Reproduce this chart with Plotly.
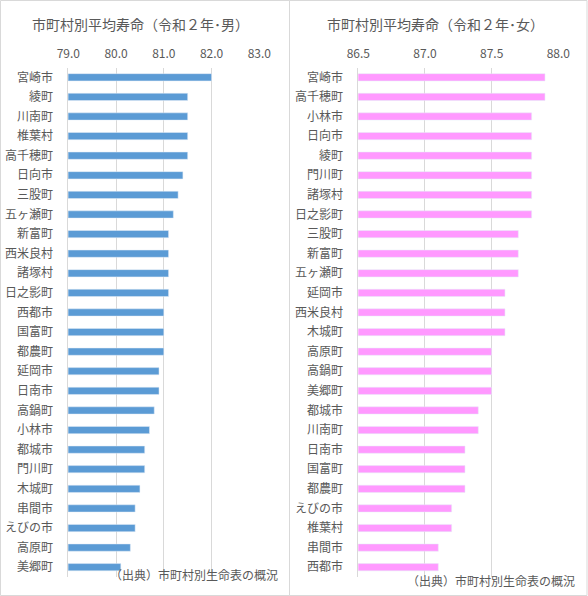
import plotly.graph_objects as go

W, H = 588, 596

male_towns = ["宮崎市","綾町","川南町","椎葉村","高千穂町","日向市","三股町","五ヶ瀬町","新富町","西米良村",
              "諸塚村","日之影町","西都市","国富町","都農町","延岡市","日南市","高鍋町","小林市","都城市",
              "門川町","木城町","串間市","えびの市","高原町","美郷町"]
male_values = [82.0,81.5,81.5,81.5,81.5,81.4,81.3,81.2,81.1,81.1,
               81.1,81.1,81.0,81.0,81.0,80.9,80.9,80.8,80.7,80.6,
               80.6,80.5,80.4,80.4,80.3,80.1]

female_towns = ["宮崎市","高千穂町","小林市","日向市","綾町","門川町","諸塚村","日之影町","三股町","新富町",
                "五ヶ瀬町","延岡市","西米良村","木城町","高原町","高鍋町","美郷町","都城市","川南町","日南市",
                "国富町","都農町","えびの市","椎葉村","串間市","西都市"]
female_values = [87.9,87.9,87.8,87.8,87.8,87.8,87.8,87.8,87.7,87.7,
                 87.7,87.6,87.6,87.6,87.5,87.5,87.5,87.4,87.4,87.3,
                 87.3,87.3,87.2,87.2,87.1,87.1]

male_ticks = [79.0, 80.0, 81.0, 82.0, 83.0]
female_ticks = [86.5, 87.0, 87.5, 88.0]

title_m = "市町村別平均寿命（令和２年･男）"
title_f = "市町村別平均寿命（令和２年･女）"
source = "（出典）市町村別生命表の概況"

FONT = "Noto Sans CJK JP"
GRAY = "#595959"
GRID = "#D9D9D9"

def px(x):
    return x / W

def py(y):
    return 1 - y / H

fig = go.Figure()
fig.add_trace(go.Bar(x=male_values, y=male_towns, orientation="h", marker_color="#5B9BD5",
                     xaxis="x", yaxis="y", showlegend=False))
fig.add_trace(go.Bar(x=female_values, y=female_towns, orientation="h", marker_color="#FF99FF",
                     xaxis="x2", yaxis="y2", showlegend=False))

ydom = [py(577), py(67.5)]
common_x = dict(side="top", showgrid=True, gridcolor=GRID, gridwidth=1, zeroline=False,
                tickfont=dict(family=FONT, size=12, color=GRAY), tickformat=".1f",
                showline=False, ticks="", ticklabelstandoff=6, fixedrange=True, automargin=False)
common_y = dict(autorange="reversed", type="category", showgrid=False, zeroline=False,
                showline=True, linecolor=GRID, linewidth=1, ticks="", automargin=False,
                tickfont=dict(family=FONT, size=12, color=GRAY), ticklabelstandoff=12)

fig.update_layout(
    width=W, height=H,
    margin=dict(l=0, r=0, t=0, b=0),
    paper_bgcolor="white", plot_bgcolor="white",
    bargap=0.63,
    xaxis=dict(domain=[px(68.3), px(259.3)], range=[79, 83], tickvals=male_ticks, anchor="y", **common_x),
    yaxis=dict(domain=ydom, anchor="x", **common_y),
    xaxis2=dict(domain=[px(358.3), px(558.3)], range=[86.5, 88.0], tickvals=female_ticks, anchor="y2", **common_x),
    yaxis2=dict(domain=ydom, anchor="x2", **common_y),
    shapes=[
        dict(type="rect", xref="paper", yref="paper", x0=px(0.5), x1=px(289.5), y0=py(595.5), y1=py(0.5),
             line=dict(color=GRID, width=1)),
        dict(type="rect", xref="paper", yref="paper", x0=px(289.5), x1=px(587), y0=py(595.5), y1=py(0.5),
             line=dict(color=GRID, width=1)),
    ],
    annotations=[
        dict(text=title_m, xref="paper", yref="paper", x=px(140.5), y=py(24), xanchor="center", yanchor="middle",
             showarrow=False, font=dict(family=FONT, size=14, color=GRAY)),
        dict(text=title_f, xref="paper", yref="paper", x=px(435.7), y=py(24), xanchor="center", yanchor="middle",
             showarrow=False, font=dict(family=FONT, size=14, color=GRAY)),
        dict(text=source, xref="paper", yref="paper", x=px(280), y=py(574), xanchor="right", yanchor="middle",
             showarrow=False, font=dict(family=FONT, size=12, color=GRAY)),
        dict(text=source, xref="paper", yref="paper", x=px(577), y=py(580), xanchor="right", yanchor="middle",
             showarrow=False, font=dict(family=FONT, size=12, color=GRAY)),
    ],
)

fig.write_html("out.html", config={"displayModeBar": False},
               post_script="document.body.style.margin='0';document.body.style.overflow='hidden';")
